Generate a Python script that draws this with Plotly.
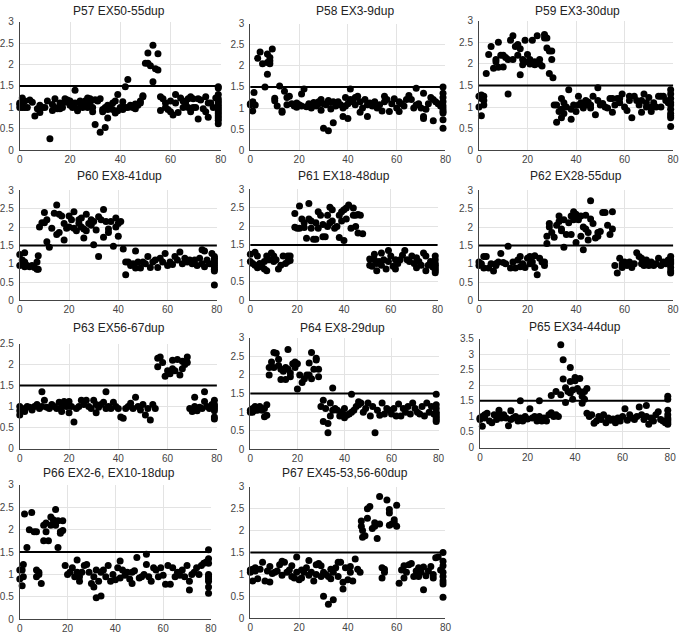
import plotly.graph_objects as go

# y values per x position (exon index)
p57 = {0: [1.07, 1.0, 1.1], 1: [1.22, 1.15, 1.05, 1.0], 2: [1.15, 1.0], 3: [1.0], 4: [1.17], 5: [1.12],
       6: [0.8], 7: [0.97], 8: [1.05, 0.88], 9: [1.0], 10: [1.0], 11: [1.15], 12: [0.27], 13: [1.07, 0.93],
       14: [1.2, 1.0], 15: [0.97], 16: [1.1, 0.97], 17: [1.0], 18: [1.2, 1.12], 19: [1.17], 20: [1.05, 1.15],
       21: [1.0], 22: [1.4, 1.1], 23: [0.92, 0.97], 24: [1.15, 1.1], 25: [1.08, 1.0], 26: [1.15, 1.05],
       27: [1.0, 1.22], 28: [1.2, 1.1], 29: [0.9, 1.0], 30: [0.6, 1.18], 31: [1.15], 32: [0.42, 1.2],
       33: [0.9, 0.95], 34: [0.53, 1.0], 35: [1.05, 0.75, 0.95], 36: [0.98], 37: [0.95, 1.1], 38: [0.87, 1.15],
       39: [1.3, 0.92], 40: [0.98, 1.0], 41: [1.13, 0.95], 42: [1.48, 1.0], 43: [1.65, 1.0], 44: [1.05],
       45: [1.0], 46: [1.08, 0.97], 47: [1.05], 48: [1.15, 1.1], 49: [1.25, 1.27], 50: [2.03],
       51: [2.27, 2.03], 52: [1.97], 53: [2.45, 1.6], 54: [1.9], 55: [2.25, 1.87], 56: [1.25, 0.93],
       57: [1.2], 58: [1.1, 1.0], 59: [0.95], 60: [1.15, 0.9], 61: [0.82], 62: [1.3, 1.1], 63: [0.88],
       64: [1.22], 65: [1.15, 1.0], 66: [1.1], 67: [1.0, 1.2], 68: [1.25, 0.9], 69: [1.0, 1.2], 70: [1.0],
       71: [0.73, 1.2], 72: [1.17], 73: [0.97], 74: [0.9, 1.25], 75: [0.77, 1.1], 76: [1.1], 77: [1.0],
       78: [1.22], 79: [1.48, 1.45, 1.3, 1.2, 1.1, 1.05, 1.0, 0.95, 0.9, 0.85, 0.8, 0.75, 0.7, 0.62, 1.15]}

p58 = {0: [1.1, 1.08], 1: [0.93, 1.15, 1.12], 1.5: [1.37], 2: [1.07], 3: [2.18], 4: [2.33], 5: [2.05],
       6: [1.5], 7: [2.28, 2.08, 1.8], 8: [2.2, 2.12, 2.05], 9: [2.4], 10: [1.23, 1.17], 11: [1.05],
       12: [1.52], 13: [0.93, 0.9], 14: [1.4], 15: [1.25, 1.08], 16: [1.28], 17: [1.1], 18: [1.05],
       19: [1.12, 1.02], 20: [1.08], 21: [1.33, 1.05], 22: [1.45], 23: [1.03], 24: [1.1], 25: [1.08, 1.0],
       26: [1.13], 27: [1.05], 28: [1.15, 1.1], 29: [0.95, 1.2], 30: [0.52, 1.1], 31: [1.08],
       32: [0.46, 1.18], 33: [0.98, 1.13], 34: [0.65, 1.15], 35: [1.05], 36: [1.15], 37: [1.08],
       38: [0.8, 1.0], 39: [1.25, 1.05], 40: [0.75, 1.1], 41: [1.45, 1.2], 42: [1.15], 43: [1.25, 1.08],
       44: [1.28], 45: [0.9, 1.15], 46: [1.0], 47: [1.2], 48: [0.8, 1.08], 49: [1.12], 50: [1.05],
       51: [1.15], 52: [1.0], 53: [1.08], 54: [0.93], 55: [1.28, 1.15], 56: [1.2], 57: [0.92], 58: [1.1],
       59: [1.22], 60: [1.0], 61: [0.92, 1.15], 62: [1.1], 63: [1.05], 64: [1.2], 65: [1.3], 66: [1.2],
       67: [1.0], 68: [1.47, 1.07], 69: [1.1], 70: [1.0], 71: [1.35, 0.75, 0.8], 72: [0.97], 73: [1.1],
       74: [1.25], 75: [0.7, 1.2], 76: [1.15], 77: [1.1], 78: [1.05],
       79: [1.5, 1.35, 1.25, 1.15, 1.05, 0.98, 0.92, 0.88, 0.72, 0.52]}

p59 = {0: [1.0, 1.25], 1: [0.8, 1.2, 1.28], 2: [1.15, 1.25, 1.05], 3: [1.78], 4: [2.22], 5: [2.4],
       6: [1.9], 7: [2.1, 2.05], 8: [2.5, 1.92], 9: [2.2], 10: [1.93, 2.2], 11: [2.15], 12: [1.3, 2.1],
       13: [2.55], 14: [2.65, 2.1], 15: [2.4], 16: [2.45, 2.2], 17: [2.35, 1.75], 18: [2.1, 1.98],
       19: [2.55, 2.05], 20: [2.22], 21: [2.1, 2.0], 22: [2.55], 23: [2.05, 1.98], 24: [2.65],
       25: [2.1, 2.0], 26: [1.95], 27: [2.68, 2.6], 28: [2.6, 2.37], 29: [2.3, 1.78], 30: [2.1, 2.3],
       30.5: [1.68], 31: [1.05], 32: [0.65, 1.05], 33: [0.9], 34: [1.2, 0.95, 0.75], 35: [1.1, 0.85],
       36: [1.0], 37: [1.4], 38: [0.72, 0.95], 39: [1.05], 40: [0.9], 41: [1.25, 1.05], 42: [1.1],
       43: [0.98], 44: [1.15, 1.05], 45: [1.12], 46: [1.05, 0.98], 47: [1.25], 48: [0.82],
       49: [1.45, 1.15], 50: [1.05], 51: [1.08], 52: [1.0], 53: [0.98], 54: [1.2], 55: [0.88, 1.2],
       56: [1.05], 57: [1.2], 58: [1.2, 1.1], 59: [1.3], 60: [1.0], 61: [0.92], 62: [1.25, 1.15],
       63: [0.75], 64: [1.25], 65: [1.15], 66: [1.05], 67: [0.88, 1.15], 68: [1.3], 69: [1.1, 1.0],
       70: [1.22], 71: [0.9, 1.0], 72: [1.1], 73: [1.0], 74: [1.25], 75: [1.0, 1.25], 76: [1.25],
       77: [1.15], 78: [1.1], 79: [1.4, 1.3, 1.2, 1.1, 1.05, 0.95, 0.85, 0.8, 0.75, 0.55]}

p60 = {0: [0.95, 1.25], 1: [1.1, 1.0], 2: [1.3, 1.05, 0.92], 3: [0.95], 4: [0.92], 5: [0.95], 6: [0.9],
       7: [0.85, 1.05], 7.5: [1.22, 0.85], 8: [2.0], 9: [2.12], 10: [2.4, 2.12], 11: [1.6, 2.2],
       12: [1.45], 13: [1.97], 14: [2.38], 15: [2.6, 1.8], 16: [2.35, 1.85], 17: [2.3], 18: [1.65, 2.1],
       19: [1.97], 20: [2.3, 2.0], 21: [2.2], 22: [2.42, 1.97], 23: [1.9], 24: [2.2, 2.1], 25: [2.25, 2.0],
       26: [1.7, 1.95], 27: [2.35, 1.9], 28: [2.1], 29: [2.2, 2.05], 30: [1.52, 2.15], 31: [1.92],
       32: [1.2, 2.28], 33: [2.2], 34: [2.48, 1.72], 35: [2.15], 36: [1.95, 1.85], 37: [2.15], 38: [1.48],
       39: [2.25, 2.0], 40: [1.75, 2.1], 41: [2.15], 42: [1.4], 43: [0.7, 1.05], 44: [1.05], 45: [0.95],
       46: [1.0], 47: [1.35, 0.88], 48: [1.05], 49: [0.88], 50: [1.05], 51: [1.0], 52: [1.2], 53: [0.9],
       54: [1.05], 55: [1.1], 56: [0.9], 57: [1.15], 58: [1.05], 59: [1.28], 60: [0.95], 61: [1.05],
       62: [0.98], 63: [1.2], 64: [1.1], 65: [1.32], 66: [1.0], 67: [1.15], 68: [1.05], 69: [1.1],
       70: [1.0], 71: [1.1], 72: [0.95], 73: [1.15], 74: [1.38, 1.0], 75: [1.35, 0.92], 76: [1.1],
       77: [1.0], 78: [1.28], 79: [1.2, 1.15, 1.1, 1.05, 1.0, 0.95, 0.9, 0.85, 0.8, 0.42]}

p61 = {0: [1.25, 1.05], 1: [1.0], 2: [1.3, 0.95], 3: [1.2, 0.88], 4: [1.0], 5: [0.9], 6: [1.05, 0.85],
       7: [1.2, 0.8], 8: [1.1], 9: [1.28], 10: [1.2, 1.05], 11: [1.1], 12: [0.85], 13: [0.95], 14: [1.2],
       15: [1.0], 16: [1.05, 1.2], 17: [1.2, 1.08], 19: [2.35, 1.98], 20: [1.95], 21: [2.55, 1.95],
       22: [2.2], 23: [2.1, 1.97], 24: [1.68], 25: [2.62, 2.2], 26: [2.15, 1.95], 27: [1.65],
       28: [2.1, 1.65], 29: [2.4, 1.95], 30: [2.3], 31: [2.05, 1.72], 32: [1.72], 33: [2.3, 2.0],
       34: [2.52, 2.1], 35: [2.45, 2.15], 36: [1.95], 37: [2.0], 38: [2.3, 1.7], 39: [2.4, 2.15],
       40: [1.62, 2.45], 41: [2.5, 2.2], 42: [2.58], 43: [1.95], 44: [2.5, 2.3], 45: [2.3, 2.0],
       46: [1.82, 2.32], 47: [2.3], 48: [1.8], 51: [1.12, 0.95], 52: [0.92], 53: [1.1, 1.25],
       54: [0.8, 1.0], 55: [1.05], 56: [1.28, 0.95], 57: [1.1], 58: [0.85], 59: [1.35, 1.05], 60: [1.2],
       61: [0.92], 62: [1.1, 0.85], 63: [1.0], 64: [1.1], 65: [1.22], 66: [1.35], 67: [1.1], 68: [1.05],
       69: [1.2], 70: [1.0], 71: [1.15, 0.88], 72: [1.05], 73: [0.95], 74: [1.28], 75: [1.2, 0.8],
       76: [0.95], 77: [1.05], 78: [0.9], 79: [1.2, 1.1, 1.0, 0.95, 0.9, 0.85, 0.8, 0.75]}

p62 = {0: [1.05, 0.95], 1: [1.0], 2: [1.2, 0.88], 3: [1.2], 4: [0.88], 5: [1.0], 6: [0.8], 7: [1.0, 0.95],
       8: [1.05], 9: [1.28], 10: [1.03], 11: [1.0], 12: [1.48], 13: [0.88], 14: [1.05], 15: [0.88],
       16: [1.1], 17: [1.2, 0.92], 18: [1.0], 19: [0.9], 20: [1.15], 21: [1.2, 1.0], 22: [1.05],
       23: [1.22, 0.9], 24: [0.7], 25: [1.15], 26: [1.05], 27: [1.05, 0.95], 28: [1.75, 1.55],
       29: [2.1, 2.0], 30: [1.85], 31: [1.72], 32: [2.05], 33: [2.3, 2.15], 34: [1.95, 1.9],
       35: [1.45, 2.2], 36: [1.8], 37: [2.12], 38: [2.3, 1.8], 39: [2.42, 2.2], 40: [2.35, 1.58],
       41: [2.2], 42: [2.3, 1.75], 43: [1.38, 2.0], 44: [1.95, 2.32], 45: [1.85, 1.65], 46: [2.72, 2.22],
       47: [2.1], 48: [1.7], 49: [1.85, 1.75], 50: [1.88], 51: [2.4], 52: [2.4], 53: [2.05], 54: [1.8],
       55: [2.42, 1.95], 56: [0.95], 57: [0.75], 58: [1.15], 59: [1.0, 0.9], 60: [1.05], 61: [0.95],
       62: [1.05], 63: [0.9], 64: [1.0], 65: [1.3], 66: [1.2], 67: [1.15, 1.0], 68: [0.95], 69: [1.1],
       70: [0.95], 71: [1.05], 72: [0.95], 73: [1.0], 74: [1.15], 75: [0.95], 76: [1.05], 77: [1.0],
       78: [1.1], 79: [1.2, 1.1, 1.05, 1.0, 0.9, 0.8, 0.75]}

p63 = {0: [1.0, 0.9, 0.8], 1: [0.95], 2: [0.88], 3: [1.0], 4: [0.98], 5: [0.92], 6: [1.0], 7: [1.05],
       8: [0.95], 9: [1.35, 1.0], 10: [1.15], 11: [0.98], 12: [0.95], 13: [1.05], 14: [1.0], 15: [0.95],
       16: [1.1], 17: [0.88, 1.0], 18: [1.12], 19: [1.0], 20: [0.85, 1.12], 21: [1.0], 22: [0.63],
       23: [0.95], 24: [1.0], 25: [1.15], 26: [1.05], 27: [1.15], 28: [1.0], 29: [0.95], 30: [1.15],
       31: [0.85, 1.05], 32: [0.98], 33: [1.05], 34: [1.1], 35: [1.35, 0.95], 36: [1.0], 37: [0.95],
       38: [1.1], 39: [1.0], 40: [0.95], 41: [0.75], 42: [0.72], 43: [0.95], 44: [1.0], 45: [1.08],
       46: [0.95], 47: [1.22], 48: [1.0], 49: [0.92], 50: [1.05], 51: [0.8], 52: [0.95], 53: [0.68],
       54: [1.05], 55: [0.95], 56: [2.15, 1.95], 57: [2.18], 58: [2.05], 59: [1.72], 60: [1.85],
       61: [1.78], 62: [2.1, 1.9], 63: [1.85], 64: [2.12], 65: [1.75], 66: [2.08, 1.9], 67: [2.0],
       68: [2.18, 2.05], 69: [0.95], 70: [0.88], 71: [1.22, 1.0], 72: [0.9], 73: [0.98], 74: [0.95],
       75: [1.35, 1.12], 76: [1.0], 77: [0.95], 78: [1.05], 79: [1.15, 1.05, 1.0, 0.95, 0.9, 0.75, 0.7]}

p64 = {0: [1.05, 1.0], 1: [1.1, 1.0], 2: [1.15, 1.05], 3: [1.05], 4: [1.15], 5: [1.05], 6: [0.88, 1.1],
       7: [0.92, 1.2], 8: [2.0, 2.2], 9: [2.35], 10: [2.6, 2.2], 11: [2.58], 12: [2.42, 2.25],
       13: [1.88, 2.15], 14: [2.1], 15: [1.88, 2.2], 16: [2.68, 2.15], 17: [1.95, 2.05], 18: [2.3],
       19: [2.35, 2.2], 20: [1.62, 2.3], 21: [2.0], 22: [1.8], 23: [1.9], 24: [2.0], 25: [2.32, 2.0],
       26: [2.6, 1.9], 27: [2.15], 28: [2.45, 2.4], 29: [2.15, 1.95], 30: [1.15], 31: [0.75, 1.32],
       32: [1.1], 33: [0.45, 0.7], 34: [1.25, 0.9], 35: [1.65, 1.05], 36: [1.1], 37: [1.05], 38: [0.9],
       39: [1.0], 40: [0.85, 1.1], 41: [0.92], 42: [0.95], 43: [1.48, 1.0], 44: [1.05], 45: [1.15],
       46: [1.28, 1.2], 47: [1.25], 48: [1.0], 49: [1.1], 50: [1.25], 51: [0.9], 52: [1.15], 53: [0.45],
       54: [1.05], 55: [0.92], 56: [1.25], 57: [0.95], 58: [1.1], 59: [1.05], 60: [0.95], 61: [1.1],
       62: [0.9], 63: [1.22], 64: [0.9], 65: [1.1], 66: [1.0], 67: [1.15], 68: [0.95], 69: [1.25],
       70: [1.1], 71: [1.0], 72: [0.95], 73: [1.15], 74: [0.9], 75: [1.25], 76: [1.0], 77: [1.15],
       78: [0.95], 79: [1.48, 1.2, 1.1, 1.0, 0.95, 0.9, 0.85, 0.8, 0.75]}

p65 = {0: [0.95, 0.9], 1: [0.68, 1.0], 2: [1.05, 0.95], 3: [1.1], 4: [0.85], 5: [0.8], 6: [1.05], 7: [0.9],
       8: [1.2, 1.05], 9: [0.95], 10: [1.05], 11: [0.95], 12: [0.7], 13: [1.18, 0.9], 14: [0.95],
       15: [1.0], 16: [0.85], 17: [1.5, 0.95], 18: [0.85], 19: [1.0], 20: [0.92], 21: [1.25], 22: [0.95],
       23: [1.0], 24: [0.85], 25: [1.5, 1.0], 26: [0.85], 27: [0.95], 28: [0.85], 29: [1.05],
       30: [1.67, 1.12], 31: [1.0], 32: [1.8, 1.05], 33: [1.0], 34: [3.3, 1.7], 35: [2.82, 2.2],
       36: [1.92, 1.45], 37: [1.8], 38: [2.57, 2.12, 1.75], 39: [1.85, 1.55], 40: [2.25, 2.15], 41: [1.9],
       42: [2.22, 1.8], 43: [1.42, 1.65], 44: [1.8, 1.55], 45: [1.9, 1.1], 46: [1.0], 47: [1.05],
       48: [0.78], 49: [0.85], 50: [1.0], 51: [0.9], 52: [1.05], 53: [0.8], 54: [0.95], 55: [0.88],
       56: [0.92], 57: [0.8], 58: [0.95], 59: [0.85], 60: [1.0], 61: [1.25], 62: [0.88], 63: [1.05],
       64: [0.95], 65: [0.9], 66: [1.0], 67: [1.3], 68: [1.05], 69: [0.9], 70: [1.35, 1.0], 71: [0.75],
       72: [0.95], 73: [0.85], 74: [1.05], 75: [1.15], 76: [0.9], 77: [0.85], 78: [0.8],
       79: [1.65, 1.55, 1.2, 1.05, 0.95, 0.9, 0.85, 0.8, 0.75]}

p66 = {0: [0.9, 1.1], 1: [1.1, 0.75], 1.5: [1.22, 0.95], 2: [2.35], 3: [1.6], 4: [2.0], 5: [2.38],
       6: [1.95], 7: [1.95, 1.1, 0.95], 8: [1.05, 1.0], 9: [0.8], 10: [1.75, 2.1], 11: [2.15, 1.95],
       12: [1.75], 13: [2.28, 2.1], 14: [2.22], 15: [2.45, 2.1], 16: [1.6, 2.2], 17: [1.95, 1.92],
       18: [2.2, 1.98], 19: [1.2], 20: [1.0], 21: [1.05], 22: [1.15], 23: [0.95], 24: [1.32, 1.05],
       25: [0.85, 0.95], 26: [1.05], 27: [1.2], 28: [1.22], 29: [1.05], 30: [0.8], 31: [0.72, 0.95],
       32: [0.48, 1.1], 33: [0.85], 34: [0.52, 1.05], 35: [1.1], 36: [0.95], 37: [1.2], 38: [0.85],
       39: [1.0], 40: [0.88], 41: [1.15], 42: [1.3, 0.92], 43: [1.1], 44: [0.98], 45: [1.05], 46: [0.9],
       47: [1.05, 0.8], 48: [1.08], 49: [1.38], 50: [0.92], 51: [0.95], 52: [1.0], 53: [1.45, 1.22],
       54: [0.95], 55: [0.85], 56: [1.15], 57: [1.1], 58: [0.95], 59: [1.15], 60: [0.98], 61: [0.78],
       62: [1.2], 63: [0.78], 64: [1.15], 65: [0.95], 66: [1.05], 67: [0.98], 68: [1.1], 69: [0.95],
       70: [1.2], 71: [0.65, 0.85], 72: [1.0], 73: [1.05], 74: [1.15], 75: [1.0], 76: [1.2], 77: [1.25],
       78: [1.28], 79: [1.55, 1.35, 1.25, 1.0, 0.95, 0.9, 0.85, 0.72, 0.58]}

p67 = {0: [1.1, 1.05], 1: [0.85, 1.12], 2: [1.15, 1.08], 3: [0.9], 4: [1.12], 5: [1.28], 6: [0.85],
       7: [1.08], 8: [1.18, 0.83], 9: [1.02], 10: [1.05], 11: [1.08], 12: [1.22], 13: [1.3, 0.98],
       14: [1.28], 15: [1.05], 16: [1.1], 17: [1.2, 0.95], 18: [0.92], 19: [1.4, 1.05], 20: [0.88],
       21: [1.1, 0.92], 22: [1.05], 23: [1.15], 24: [1.32, 0.98], 25: [1.05], 26: [0.85], 27: [1.22, 1.0],
       28: [1.25], 29: [1.2, 0.95], 30: [0.5, 1.05], 31: [1.0], 32: [0.32, 0.95], 33: [1.12, 0.9],
       34: [0.42, 1.05], 35: [1.15], 36: [0.95, 1.28], 37: [1.28], 38: [0.67, 0.82], 39: [1.15],
       40: [0.88], 41: [1.18, 1.05], 42: [0.85], 43: [1.35], 44: [1.12], 45: [1.05], 45.5: [2.22, 2.1],
       46: [1.85, 2.0], 47: [1.88], 48: [2.28, 2.5], 49: [2.55], 50: [2.05], 51: [2.18, 2.1], 52: [1.82],
       53: [2.78, 2.15], 54: [1.15, 0.92], 55: [1.05, 1.12], 56: [2.7], 57: [2.12, 2.4, 2.48], 58: [2.15],
       59: [2.25, 2.18], 60: [2.58, 2.1], 61: [0.8], 62: [1.1], 63: [1.2, 0.92], 64: [1.05], 65: [1.22],
       66: [1.25], 67: [0.95], 68: [1.08], 69: [1.15, 0.95], 70: [1.05], 71: [1.17, 0.65], 72: [0.97],
       73: [1.08], 74: [1.18], 75: [0.92, 1.0], 76: [1.38], 77: [1.4], 78: [1.1],
       79: [1.5, 1.3, 1.2, 1.05, 0.95, 0.85, 0.78, 0.48]}

titles = ["P57 EX50-55dup", "P58 EX3-9dup", "P59 EX3-30dup", "P60 EX8-41dup", "P61 EX18-48dup",
          "P62 EX28-55dup", "P63 EX56-67dup", "P64 EX8-29dup", "P65 EX34-44dup",
          "P66 EX2-6, EX10-18dup", "P67 EX45-53,56-60dup"]
series = [p57, p58, p59, p60, p61, p62, p63, p64, p65, p66, p67]
y_max = [3, 3, 3, 3, 3, 3, 2.5, 3, 3.5, 3, 3]
THRESHOLD = 1.5

W, H = 685, 638
# plot area of each panel in pixels: left, right, top, bottom
boxes = [(16, 220, 16, 147), (250, 448, 18, 147), (482, 679, 15, 147),
         (16, 216, 188, 300), (250, 440, 187, 300), (482, 679, 188, 300),
         (16, 216, 344, 451), (250, 441, 338, 452), (483, 676, 339, 450),
         (16, 210, 488, 625), (250, 448, 490, 624)]
# title centre in pixels
title_pos = [(117, 5), (356, 5), (582, 5), (117, 173), (345, 173), (580, 173),
             (117, 328), (344, 328), (579, 327), (107, 476), (346, 476)]

tick_font = dict(family="Liberation Sans, Arial, sans-serif", size=10, color="#444")
fig = go.Figure()

for i, (name, pts) in enumerate(zip(titles, series)):
    xs, ys = [], []
    for x, vals in pts.items():
        for v in vals:
            xs.append(x)
            ys.append(v)
    sfx = "" if i == 0 else str(i + 1)
    fig.add_trace(go.Scatter(
        x=xs, y=ys, mode="markers", xaxis="x" + sfx, yaxis="y" + sfx,
        marker=dict(size=7, color="#000"), cliponaxis=False, showlegend=False, name=name))

    l, r, t, b = boxes[i]
    fig.layout["xaxis" + sfx] = dict(
        domain=[l / W, r / W], anchor="y" + sfx, range=[0, 80], dtick=20,
        showgrid=True, gridcolor="#e3e3e3", gridwidth=1, zeroline=False,
        showline=True, linecolor="#444", linewidth=1, ticks="", tickfont=tick_font,
        ticklabelstandoff=0)
    fig.layout["yaxis" + sfx] = dict(
        domain=[1 - b / H, 1 - t / H], anchor="x" + sfx, range=[0, y_max[i]], dtick=0.5,
        showgrid=True, gridcolor="#e3e3e3", gridwidth=1, zeroline=False,
        showline=True, linecolor="#444", linewidth=1, ticks="", tickfont=tick_font,
        ticklabelstandoff=3)

    # threshold line at 1.5
    fig.add_shape(type="line", xref="x" + sfx + " domain", yref="y" + sfx,
                  x0=0, x1=1, y0=THRESHOLD, y1=THRESHOLD, line=dict(color="#000", width=2))

    tx, ty = title_pos[i]
    fig.add_annotation(text=name, x=tx / W, y=1 - ty / H, xref="paper", yref="paper",
                       showarrow=False, xanchor="center", yanchor="middle",
                       font=dict(family="Liberation Sans, Arial, sans-serif", size=12, color="#222"))

fig.update_layout(
    width=W, height=H,
    margin=dict(l=0, r=0, t=0, b=0),
    paper_bgcolor="white", plot_bgcolor="white",
)

# drop the default page margin so the figure sits at the window's top-left corner
fig.write_html("out.html", config={"displayModeBar": False},
               post_script="document.body.style.margin='0';"
               "document.body.style.overflow='hidden';")
